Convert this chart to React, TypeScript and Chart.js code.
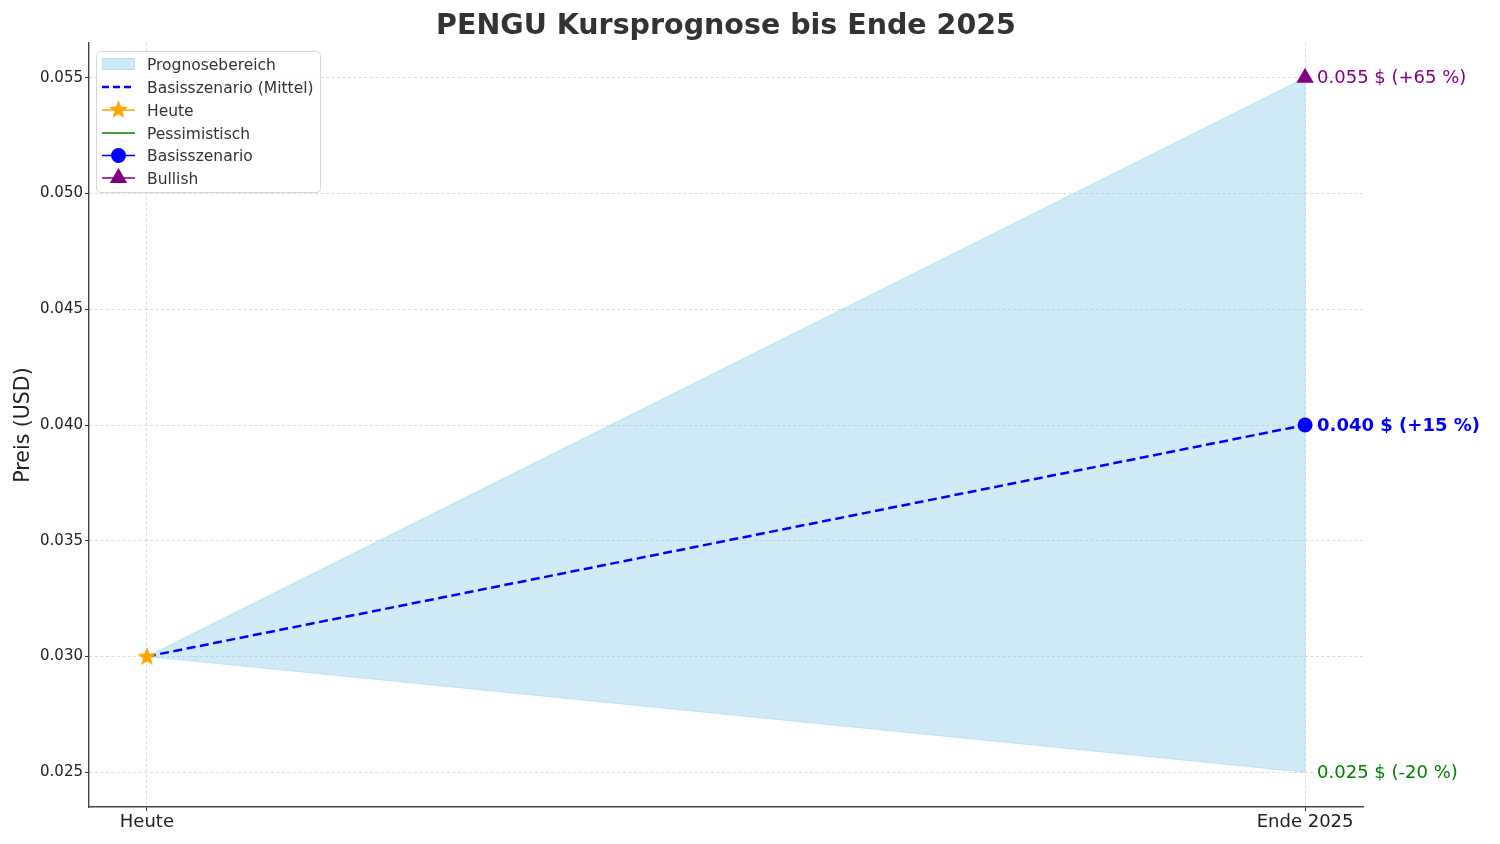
import React, { useEffect, useRef } from "react";
import { Chart, registerables } from "chart.js";

Chart.register(...registerables);

const categories = ["Heute", "Ende 2025"];
const pessimistic = [0.03, 0.025];
const baseCase = [0.03, 0.04];
const bullish = [0.03, 0.055];
const todayPrice = [0.03];
const yTicks = [0.025, 0.03, 0.035, 0.04, 0.045, 0.05, 0.055];
const endLabels = ["0.055 $ (+65 %)", "0.040 $ (+15 %)", "0.025 $ (-20 %)"];
const legendLabels = [
  "Prognosebereich",
  "Basisszenario (Mittel)",
  "Heute",
  "Pessimistisch",
  "Basisszenario",
  "Bullish",
];

const FONT = "'DejaVu Sans', sans-serif";
const SKY = "rgba(135,206,235,0.4)";
const ORANGE = "#FFA500";
const GREEN = "#008000";
const PURPLE = "#800080";
const BLUE = "#0000FF";
const GRID = "rgba(190,190,190,0.7)";

function drawStar(ctx: CanvasRenderingContext2D, cx: number, cy: number, r: number, color: string) {
  const inner = r * 0.42;
  ctx.save();
  ctx.beginPath();
  for (let i = 0; i < 10; i++) {
    const rad = i % 2 === 0 ? r : inner;
    const a = -Math.PI / 2 + (i * Math.PI) / 5;
    const px = cx + rad * Math.cos(a);
    const py = cy + rad * Math.sin(a);
    if (i === 0) ctx.moveTo(px, py);
    else ctx.lineTo(px, py);
  }
  ctx.closePath();
  ctx.fillStyle = color;
  ctx.fill();
  ctx.restore();
}

function drawTriangle(ctx: CanvasRenderingContext2D, cx: number, cy: number, r: number, color: string) {
  ctx.save();
  ctx.beginPath();
  ctx.moveTo(cx, cy - r);
  ctx.lineTo(cx + r * 0.866, cy + r * 0.5);
  ctx.lineTo(cx - r * 0.866, cy + r * 0.5);
  ctx.closePath();
  ctx.fillStyle = color;
  ctx.fill();
  ctx.restore();
}

function makeStarImage(): HTMLCanvasElement {
  const c = document.createElement("canvas");
  c.width = 22;
  c.height = 22;
  const ctx = c.getContext("2d")!;
  drawStar(ctx, 11, 11.5, 10, ORANGE);
  return c;
}

const extrasPlugin = {
  id: "extras",
  afterDatasetsDraw(chart: any) {
    const ctx: CanvasRenderingContext2D = chart.ctx;
    const xs = chart.scales.x;
    const ys = chart.scales.y;
    const area = chart.chartArea;

    // title
    ctx.save();
    ctx.fillStyle = "#333333";
    ctx.font = `bold 28.5px ${FONT}`;
    ctx.textAlign = "center";
    ctx.textBaseline = "middle";
    ctx.fillText("PENGU Kursprognose bis Ende 2025", 726, 27);

    // y title
    ctx.translate(24, (area.top + area.bottom) / 2);
    ctx.rotate(-Math.PI / 2);
    ctx.font = `20.5px ${FONT}`;
    ctx.fillStyle = "#222222";
    ctx.fillText("Preis (USD)", 0, 0);
    ctx.restore();

    // end annotations
    const xEnd = xs.getPixelForValue(1) + 12;
    const ann = [
      { v: bullish[1], t: endLabels[0], c: PURPLE, b: false },
      { v: baseCase[1], t: endLabels[1], c: BLUE, b: true },
      { v: pessimistic[1], t: endLabels[2], c: GREEN, b: false },
    ];
    ctx.save();
    ctx.textAlign = "left";
    ctx.textBaseline = "middle";
    for (const a of ann) {
      ctx.font = `${a.b ? "bold " : ""}18px ${FONT}`;
      ctx.fillStyle = a.c;
      ctx.fillText(a.t, xEnd, ys.getPixelForValue(a.v) + 1);
    }
    ctx.restore();

    // legend
    ctx.save();
    const bx = 96.5, by = 51.5, bw = 224, bh = 141, rr = 4;
    ctx.beginPath();
    ctx.moveTo(bx + rr, by);
    ctx.lineTo(bx + bw - rr, by);
    ctx.quadraticCurveTo(bx + bw, by, bx + bw, by + rr);
    ctx.lineTo(bx + bw, by + bh - rr);
    ctx.quadraticCurveTo(bx + bw, by + bh, bx + bw - rr, by + bh);
    ctx.lineTo(bx + rr, by + bh);
    ctx.quadraticCurveTo(bx, by + bh, bx, by + bh - rr);
    ctx.lineTo(bx, by + rr);
    ctx.quadraticCurveTo(bx, by, bx + rr, by);
    ctx.closePath();
    ctx.fillStyle = "rgba(255,255,255,0.8)";
    ctx.fill();
    ctx.strokeStyle = "#d6d6d6";
    ctx.lineWidth = 1;
    ctx.stroke();

    const rowY = [64, 87, 110, 133, 155.5, 178];
    const h0 = 102, h1 = 135, hc = 118.5;
    // row 0: patch
    ctx.fillStyle = SKY;
    ctx.fillRect(h0, rowY[0] - 6, h1 - h0, 12);
    ctx.strokeStyle = SKY;
    ctx.strokeRect(h0 + 0.5, rowY[0] - 5.5, h1 - h0 - 1, 11);
    // row 1: dashed
    ctx.strokeStyle = BLUE;
    ctx.lineWidth = 2.5;
    ctx.setLineDash([7, 4]);
    ctx.beginPath();
    ctx.moveTo(h0, rowY[1]);
    ctx.lineTo(h1, rowY[1]);
    ctx.stroke();
    ctx.setLineDash([]);
    // row 2: heute
    ctx.lineWidth = 1.5;
    ctx.strokeStyle = ORANGE;
    ctx.beginPath();
    ctx.moveTo(h0, rowY[2]);
    ctx.lineTo(h1, rowY[2]);
    ctx.stroke();
    drawStar(ctx, hc, rowY[2], 10, ORANGE);
    // row 3: green
    ctx.strokeStyle = GREEN;
    ctx.beginPath();
    ctx.moveTo(h0, rowY[3]);
    ctx.lineTo(h1, rowY[3]);
    ctx.stroke();
    // row 4: blue circle
    ctx.strokeStyle = BLUE;
    ctx.beginPath();
    ctx.moveTo(h0, rowY[4]);
    ctx.lineTo(h1, rowY[4]);
    ctx.stroke();
    ctx.fillStyle = BLUE;
    ctx.beginPath();
    ctx.arc(hc, rowY[4], 7.5, 0, Math.PI * 2);
    ctx.fill();
    // row 5: purple triangle
    ctx.strokeStyle = PURPLE;
    ctx.beginPath();
    ctx.moveTo(h0, rowY[5]);
    ctx.lineTo(h1, rowY[5]);
    ctx.stroke();
    drawTriangle(ctx, hc, rowY[5], 10, PURPLE);

    ctx.fillStyle = "#333333";
    ctx.font = `15.5px ${FONT}`;
    ctx.textAlign = "left";
    ctx.textBaseline = "middle";
    legendLabels.forEach((l, i) => ctx.fillText(l, 147, rowY[i] + 1.5));
    ctx.restore();
  },
};

export default function App() {
  const ref = useRef<HTMLCanvasElement | null>(null);

  useEffect(() => {
    document.body.style.margin = "0";
    const canvas = ref.current!;
    const pts = (arr: number[]) => arr.map((y, i) => ({ x: i, y }));
    const starImg = makeStarImage();

    const chart = new Chart(canvas, {
      type: "line",
      data: {
        datasets: [
          {
            label: "lower",
            data: pts(pessimistic),
            borderColor: SKY,
            borderWidth: 1,
            pointRadius: 0,
            fill: false,
            order: 30,
          },
          {
            label: "Prognosebereich",
            data: pts(bullish),
            borderColor: SKY,
            borderWidth: 1,
            backgroundColor: SKY,
            pointRadius: 0,
            fill: "-1",
            order: 30,
          },
          {
            label: "rightEdge",
            data: [
              { x: 1, y: pessimistic[1] },
              { x: 1, y: bullish[1] },
            ],
            borderColor: SKY,
            borderWidth: 1,
            pointRadius: 0,
            fill: false,
            order: 30,
          },
          {
            label: "Basisszenario (Mittel)",
            data: pts(baseCase),
            borderColor: BLUE,
            borderWidth: 2.5,
            borderDash: [9, 4.5],
            pointRadius: 0,
            fill: false,
            order: 20,
          },
          {
            label: "Heute",
            data: todayPrice.map((y) => ({ x: 0, y })),
            showLine: false,
            pointStyle: starImg as any,
            pointRadius: 10,
            order: 1,
          },
          {
            label: "Pessimistisch",
            data: [{ x: 1, y: pessimistic[1] }],
            showLine: false,
            pointRadius: 0,
            borderColor: GREEN,
            order: 1,
          },
          {
            label: "Basisszenario",
            data: [{ x: 1, y: baseCase[1] }],
            showLine: false,
            pointStyle: "circle",
            pointRadius: 7.5,
            pointBackgroundColor: BLUE,
            pointBorderColor: BLUE,
            pointBorderWidth: 0,
            order: 1,
          },
          {
            label: "Bullish",
            data: [{ x: 1, y: bullish[1] }],
            showLine: false,
            pointStyle: "triangle",
            pointRadius: 10,
            pointBackgroundColor: PURPLE,
            pointBorderColor: PURPLE,
            pointBorderWidth: 0,
            order: 1,
          },
        ],
      },
      options: {
        responsive: false,
        animation: false,
        events: [],
        layout: { padding: { top: 43, right: 137, bottom: 0, left: 0 } },
        plugins: {
          legend: { display: false },
          title: { display: false },
          tooltip: { enabled: false },
        },
        scales: {
          x: {
            type: "linear",
            min: -0.05,
            max: 1.05,
            afterFit: (s: any) => {
              s.height = 37;
            },
            afterBuildTicks: (s: any) => {
              s.ticks = categories.map((_, i) => ({ value: i }));
            },
            ticks: {
              callback: (v: any) => categories[v as number] ?? "",
              font: { family: FONT, size: 18 },
              color: "#222222",
              padding: 1,
              maxRotation: 0,
              autoSkip: false,
            },
            grid: {
              color: GRID,
              lineWidth: 0.8,
              drawTicks: true,
              tickLength: 4,
              tickColor: "#333333",
              tickWidth: 1,
              tickBorderDash: [],
            },
            border: { display: true, color: "#444444", width: 1.4, dash: [3, 2.5] },
          },
          y: {
            type: "linear",
            min: 0.0235,
            max: 0.0565,
            afterFit: (s: any) => {
              s.width = 89;
            },
            afterBuildTicks: (s: any) => {
              s.ticks = yTicks.map((v) => ({ value: v }));
            },
            ticks: {
              callback: (v: any) => Number(v).toFixed(3),
              font: { family: FONT, size: 15 },
              color: "#222222",
              padding: 2,
            },
            grid: {
              color: GRID,
              lineWidth: 0.8,
              drawTicks: true,
              tickLength: 4,
              tickColor: "#333333",
              tickWidth: 1,
              tickBorderDash: [],
            },
            border: { display: true, color: "#444444", width: 1.4, dash: [3, 2.5] },
          },
        },
      },
      plugins: [extrasPlugin],
    });
    return () => chart.destroy();
  }, []);

  return (
    <div style={{ position: "absolute", left: 0, top: 0, width: 1500, height: 844, background: "#fff" }}>
      <canvas ref={ref} width={1500} height={844} style={{ display: "block" }} />
    </div>
  );
}
